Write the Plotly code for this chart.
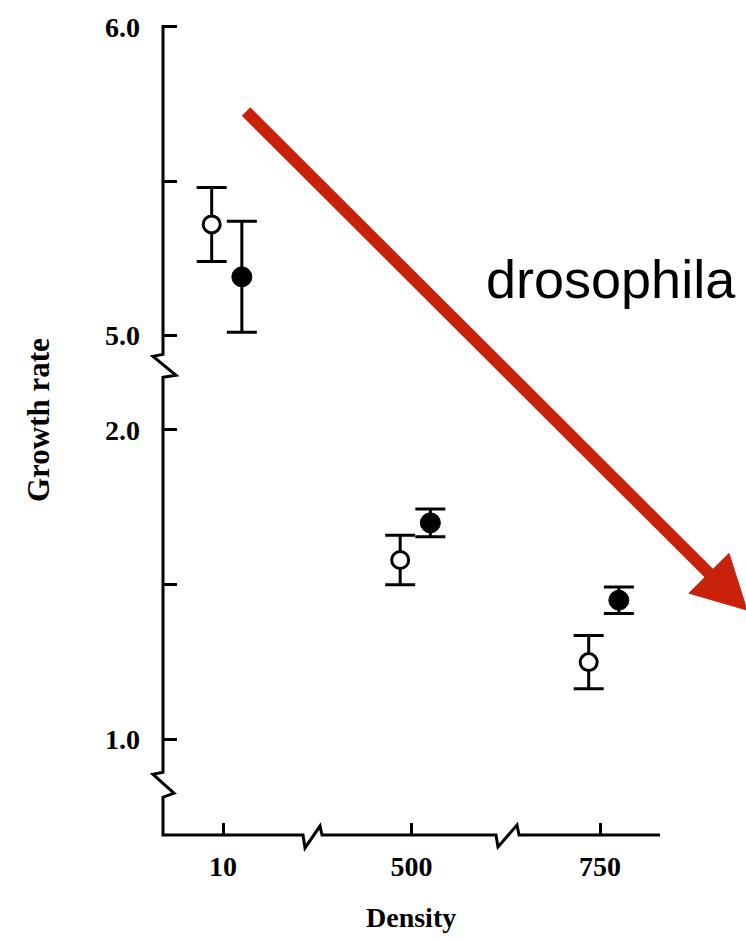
import plotly.graph_objects as go

# ---------------- data ----------------
densities = ["10", "500", "750"]
open_mean = [5.36, 1.58, 1.25]
open_err = [0.12, 0.08, 0.086]
filled_mean = [5.19, 1.70, 1.45]
filled_err = [0.18, 0.045, 0.043]
y_top_ticks = [5.0, 5.5, 6.0]
y_top_text = ["5.0", "", "6.0"]
y_bot_ticks = [1.0, 1.5, 2.0]
y_bot_text = ["1.0", "", "2.0"]
annotation_text = "drosophila"
x_title = "Density"
y_title = "Growth rate"

# ---------------- layout helpers ----------------
W, H = 746, 941
L, R, T, B = 163, 660, 18, 835


def px(x):
    return (x - L) / (R - L)


def py(y):
    return (B - y) / (B - T)


OPEN_DX = -0.06
FILLED_DX = 0.1
xs = list(range(len(densities)))

fig = go.Figure()

err_style = dict(type="data", thickness=3, width=15, color="black", visible=True)

# top segment: first group (density 10); bottom: rest
for idxs, yax in (([0], "y2"), ([1, 2], "y")):
    fig.add_trace(go.Scatter(
        x=[xs[i] + FILLED_DX for i in idxs],
        y=[filled_mean[i] for i in idxs],
        error_y=dict(array=[filled_err[i] for i in idxs], **err_style),
        mode="markers",
        marker=dict(symbol="circle", size=20, color="black",
                    line=dict(color="black", width=1)),
        yaxis=yax, xaxis="x", showlegend=False, cliponaxis=False,
    ))
    fig.add_trace(go.Scatter(
        x=[xs[i] + OPEN_DX for i in idxs],
        y=[open_mean[i] for i in idxs],
        error_y=dict(array=[open_err[i] for i in idxs], **err_style),
        mode="markers",
        marker=dict(symbol="circle", size=17, color="white",
                    line=dict(color="black", width=3)),
        yaxis=yax, xaxis="x", showlegend=False, cliponaxis=False,
    ))

tick_font = dict(family="Liberation Serif", size=28, color="black", weight="bold")

fig.update_layout(
    width=W, height=H,
    margin=dict(l=L, r=W - R, t=T, b=H - B, pad=0),
    paper_bgcolor="white", plot_bgcolor="white",
    xaxis=dict(
        range=[(L - 223) / 188.5, (R - 223) / 188.5],
        tickvals=xs, ticktext=densities,
        ticks="inside", ticklen=12, tickwidth=3, tickcolor="black",
        showline=False, showgrid=False, zeroline=False,
        tickfont=tick_font, ticklabelstandoff=12,
        anchor="y",
    ),
    yaxis=dict(
        domain=[0, py(375)],
        range=[1.0 - (B - 739) / 311, 2.0 + (428 - 375) / 311],
        tickvals=y_bot_ticks, ticktext=y_bot_text,
        ticks="inside", ticklen=14, tickwidth=3, tickcolor="black",
        showline=False, showgrid=False, zeroline=False,
        tickfont=tick_font, ticklabelstandoff=22,
        anchor="x",
    ),
    yaxis2=dict(
        domain=[py(352), 1],
        range=[5.0 - (352 - 333) / 310, 6.0 + (23 - T) / 310],
        tickvals=y_top_ticks, ticktext=y_top_text,
        ticks="inside", ticklen=14, tickwidth=3, tickcolor="black",
        showline=False, showgrid=False, zeroline=False,
        tickfont=tick_font, ticklabelstandoff=22,
        anchor="x",
    ),
)

# broken axis lines (styling)
axis_pts = [(163, 21), (163, 352), (153, 354), (176, 373), (163, 375),
            (163, 772), (153, 774), (174, 793), (163, 797), (163, 835),
            (303, 835), (305, 848), (320, 826), (322, 835),
            (496, 835), (498, 847), (517, 825), (519, 835), (660, 835)]
path = "M " + " L ".join(f"{px(x):.5f},{py(y):.5f}" for x, y in axis_pts)
fig.add_shape(type="path", path=path, xref="paper", yref="paper",
              line=dict(color="black", width=3), layer="above")

# red arrow
RED = "#C8230A"
fig.add_shape(type="line", xref="paper", yref="paper",
              x0=px(246), y0=py(108), x1=px(712), y1=py(575),
              line=dict(color=RED, width=12))
tri = [(689, 592), (729, 552), (747, 609)]
fig.add_shape(type="path", xref="paper", yref="paper",
              path="M " + " L ".join(f"{px(x):.5f},{py(y):.5f}" for x, y in tri) + " Z",
              fillcolor=RED, line=dict(color=RED, width=1))

fig.add_annotation(text=annotation_text, xref="paper", yref="paper",
                   x=px(611), y=py(276), xanchor="center", yanchor="middle",
                   showarrow=False,
                   font=dict(family="Liberation Sans", size=54, color="black"))

title_font = dict(family="Liberation Serif", size=31, color="black", weight="bold")
fig.add_annotation(text=y_title, xref="paper", yref="paper",
                   x=px(38), y=py(418), xanchor="center", yanchor="middle",
                   textangle=-90, showarrow=False, font=title_font)
fig.add_annotation(text=x_title, xref="paper", yref="paper",
                   x=px(411), y=py(918), xanchor="center", yanchor="middle",
                   showarrow=False,
                   font=dict(family="Liberation Serif", size=28, color="black", weight="bold"))

fig.write_html("out.html")
